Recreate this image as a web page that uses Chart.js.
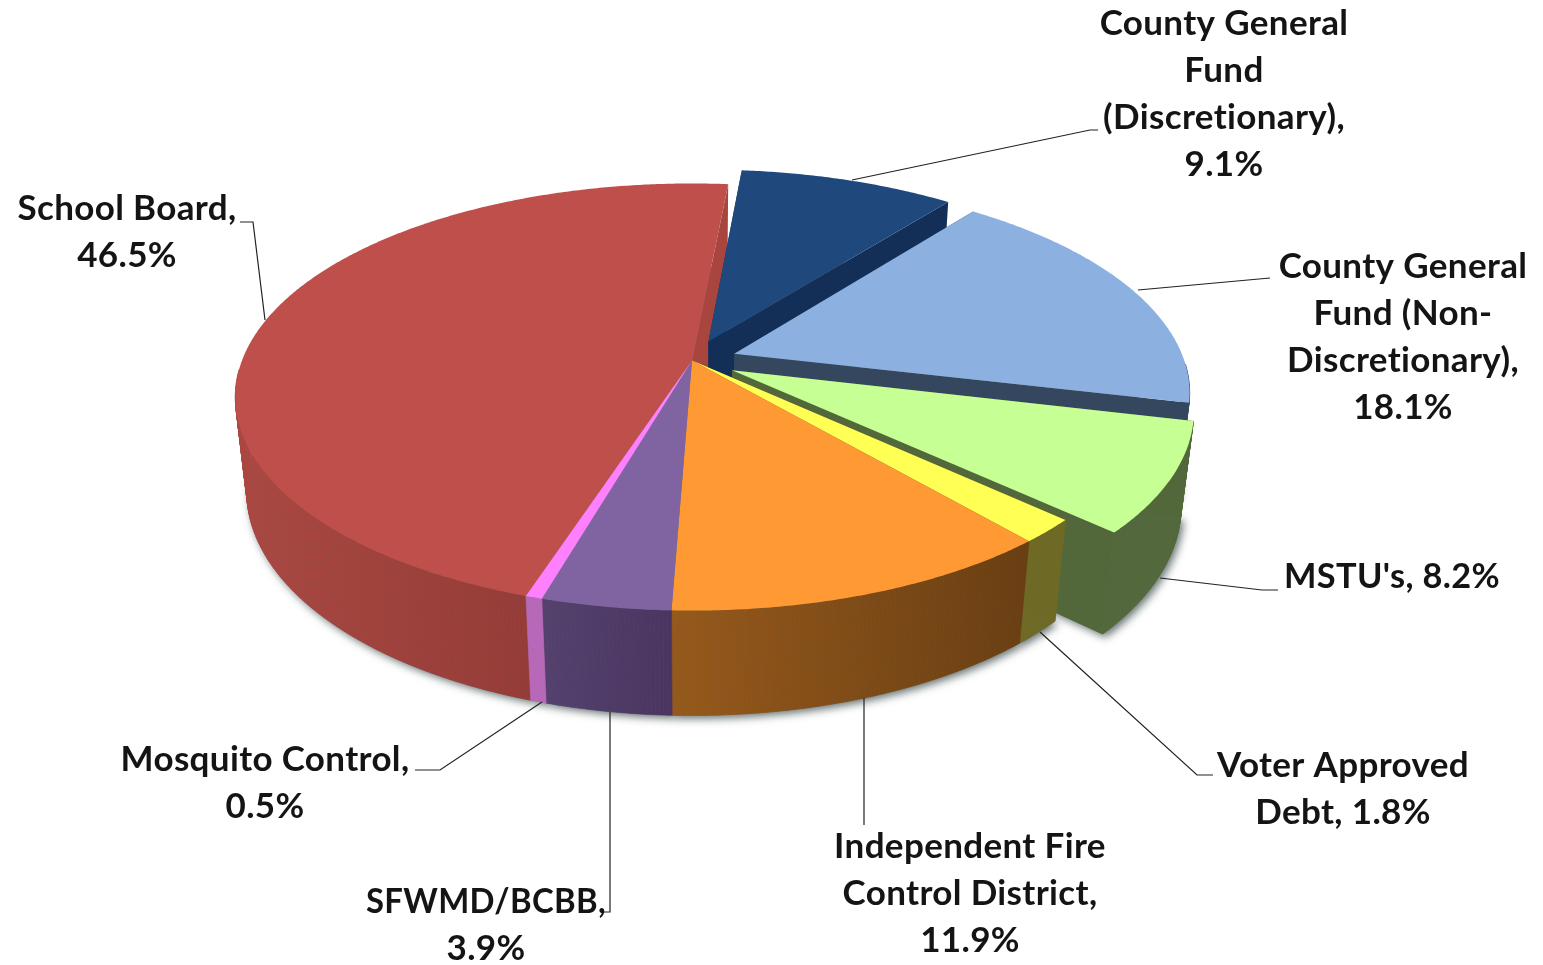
<!DOCTYPE html>
<html><head><meta charset="utf-8">
<style>html,body{margin:0;padding:0;background:#fff}canvas{display:block}</style>
<script src="https://cdn.jsdelivr.net/npm/chart.js@4"></script>
</head><body><canvas id="c" width="1543" height="965"></canvas>
<script>
const categories = ["County General Fund (Discretionary)","County General Fund (Non-Discretionary)","MSTU's","Voter Approved Debt","Independent Fire Control District","SFWMD/BCBB","Mosquito Control","School Board"];
const values = [9.1,18.1,8.2,1.8,11.9,3.9,0.5,46.5];
const topColors = ["#1F497D","#8CB1E0","#C6FF94","#FFFF54","#FF9933","#8064A2","#FF80FF","#BE4F4B"];
const wallLeft = ["#1a3c68","#3a506b","#52683b","#6e6a25","#96591b","#54416e","#b868b8","#ab4741"];
const wallRight = ["#132f57","#34475f","#52683b","#6e6a25","#693e12","#4a3560","#b868b8","#863431"];
const faceColors = ["#132f57","#34475f","#52683b","#6e6a25","#693e12","#4a3560","#b868b8","#a8453f"];
const explode = [0.1,0.1,0.1,0,0,0,0,0];
const paintOrder = [7,0,1,2,3,4,5,6];
const labelLines = [
 ["County General","Fund","(Discretionary),","9.1%"],
 ["County General","Fund (Non-","Discretionary),","18.1%"],
 ["MSTU's, 8.2%"],
 ["Voter Approved","Debt, 1.8%"],
 ["Independent Fire","Control District,","11.9%"],
 ["SFWMD/BCBB,","3.9%"],
 ["Mosquito Control,","0.5%"],
 ["School Board,","46.5%"]];
const labelAnchor = [[1224,24],[1403,267],[1392,577],[1343,766],[970,847],[486,902],[265,760],[127,209]];
const labelMaxWidth = {"SFWMD/BCBB,":240,"MSTU's, 8.2%":216};
const leaders = [
 [[852,180],[1090,130],[1098,130]],
 [[1138,290],[1270,278]],
 [[1160,578],[1262,590],[1278,590]],
 [[1040,632],[1197,775],[1213,775]],
 [[864,698],[864,825]],
 [[610,712],[610,912],[603,912]],
 [[542,702],[440,770],[415,770]],
 [[265,320],[253,222],[240,222]]];

const TILT=207.3/450, PERSP=0.171, DEPTH=95.9/450, SHRINK=0.025, LINE_H=47;

const pie3d = {
 id:'pie3d',
 beforeDatasetsDraw(chart){
  const ctx=chart.ctx, arcs=chart.getDatasetMeta(0).data, N=arcs.length;
  const P=(arc,u,v,z)=>{
   const d=1-PERSP*v+SHRINK*z, R=arc.outerRadius;
   return [arc.x+R*u/d, arc.y+R*(TILT*v+DEPTH*z)/d];
  };
  const geom=arcs.map((arc,i)=>{
   const a0=arc.startAngle,a1=arc.endAngle,mid=(a0+a1)/2,e=explode[i];
   const ox=e*Math.cos(mid), oy=e*Math.sin(mid);
   const rim=[]; const n=Math.max(2,Math.ceil((a1-a0)/0.008));
   for(let k=0;k<=n;k++){const a=a0+(a1-a0)*k/n;rim.push([ox+Math.cos(a),oy+Math.sin(a)]);}
   return {arc,ox,oy,rim};
  });
  const poly=(pts)=>{ctx.beginPath();pts.forEach((p,k)=>k?ctx.lineTo(p[0],p[1]):ctx.moveTo(p[0],p[1]));ctx.closePath();};
  // soft ground shadow
  ctx.save();
  ctx.shadowColor='rgba(50,65,65,0.75)';ctx.shadowBlur=8;ctx.shadowOffsetX=3;ctx.shadowOffsetY=3;
  ctx.fillStyle='#777';
  geom.forEach(g=>{
   poly([P(g.arc,g.ox,g.oy,1),...g.rim.map(p=>P(g.arc,p[0],p[1],1))]);ctx.fill();
  });
  ctx.restore();
  paintOrder.forEach(i=>{
   const g=geom[i],arc=g.arc,rim=g.rim;
   const apexT=P(arc,g.ox,g.oy,0),apexB=P(arc,g.ox,g.oy,1);
   // radial cut faces, only where the neighbouring slice has moved away
   ctx.fillStyle=faceColors[i];
   const faces=[[rim[0],explode[(i+N-1)%N]],[rim[rim.length-1],explode[(i+1)%N]]];
   faces.forEach(([p,nb])=>{
    if(!explode[i] && !nb) return;
    poly([apexT,P(arc,p[0],p[1],0),P(arc,p[0],p[1],1),apexB]);ctx.fill();
   });
   // outer wall (front-facing part), shaded along x
   const top=rim.map(p=>P(arc,p[0],p[1],0)),bot=rim.map(p=>P(arc,p[0],p[1],1));
   const xs=top.map(p=>p[0]);
   const x0=Math.min(...xs),x1=Math.max(...xs);
   const grad=ctx.createLinearGradient(x0,0,x1+0.01,0);
   grad.addColorStop(0,wallLeft[i]);grad.addColorStop(1,wallRight[i]);
   ctx.fillStyle=grad;ctx.strokeStyle=grad;ctx.lineWidth=0.6;
   for(let k=0;k<top.length-1;k++){
    if(rim[k][1]-g.oy<0.05 && rim[k+1][1]-g.oy<0.05) continue;
    poly([top[k],top[k+1],bot[k+1],bot[k]]);ctx.fill();ctx.stroke();
   }
   // top surface
   ctx.fillStyle=topColors[i];
   poly([apexT,...top]);ctx.fill();
  });
  return false;
 },
 afterDraw(chart){
  const ctx=chart.ctx;
  ctx.save();
  ctx.strokeStyle='#222';ctx.lineWidth=1.2;
  leaders.forEach(l=>{ctx.beginPath();l.forEach((p,k)=>k?ctx.lineTo(p[0],p[1]):ctx.moveTo(p[0],p[1]));ctx.stroke();});
  ctx.fillStyle='#141414';ctx.font='bold 35px Lato';ctx.letterSpacing='0.35px';ctx.textAlign='center';ctx.textBaseline='middle';
  labelLines.forEach((lines,i)=>lines.forEach((t,k)=>ctx.fillText(t,labelAnchor[i][0],labelAnchor[i][1]+k*LINE_H,labelMaxWidth[t]||600)));
  ctx.restore();
 }
};

new Chart(document.getElementById('c'),{
 type:'pie',
 data:{labels:categories,datasets:[{data:values,backgroundColor:topColors,borderWidth:0}]},
 options:{
  responsive:false,animation:false,radius:450,rotation:5.4,
  layout:{padding:{right:159,bottom:244}},
  plugins:{legend:{display:false},tooltip:{enabled:false},title:{display:false}}
 },
 plugins:[pie3d]
});
</script></body></html>
